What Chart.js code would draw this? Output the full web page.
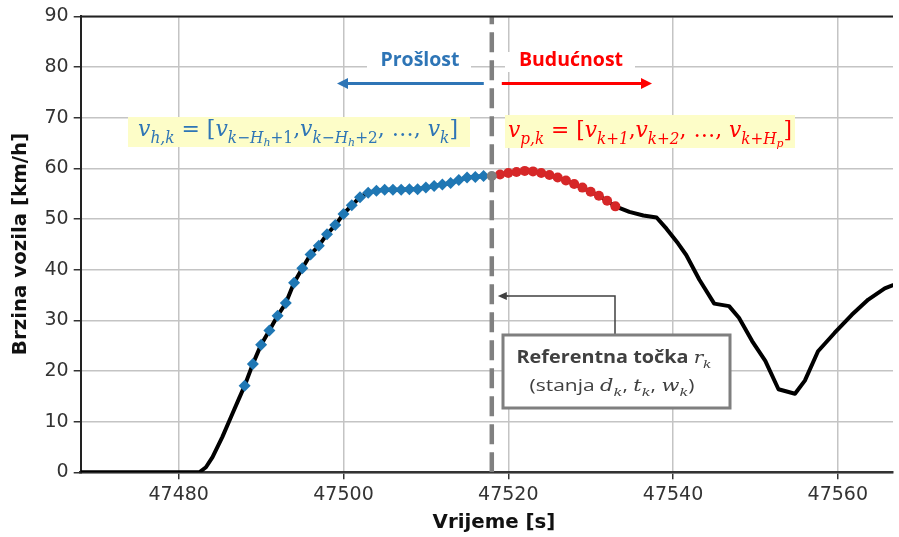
<!DOCTYPE html>
<html><head><meta charset="utf-8">
<script src="https://cdn.jsdelivr.net/npm/chart.js@4/dist/chart.umd.min.js"></script>
<style>html,body{margin:0;padding:0;background:#fff;}#wrap{width:899px;height:537px;position:relative;}</style>
</head><body><div id="wrap"><canvas id="c" width="899" height="537"></canvas></div>
<script>
// ---------- data ----------
const xTickValues = [47480, 47500, 47520, 47540, 47560];
const yTickValues = [0, 10, 20, 30, 40, 50, 60, 70, 80, 90];

// black speed profile before the history window
const leadTimes  = [47466, 47482.5, 47483.3, 47484.1, 47485.3, 47486.5, 47487.3];
const leadSpeeds = [0, 0, 1.0, 3.0, 7.0, 11.5, 14.5];

// history window (blue markers)
const histTimes  = [47488, 47489, 47490, 47491, 47492, 47493, 47494, 47495, 47496, 47497,
                    47498, 47499, 47500, 47501, 47502, 47503, 47504, 47505, 47506, 47507,
                    47508, 47509, 47510, 47511, 47512, 47513, 47514, 47515, 47516, 47517];
const histSpeeds = [17.1, 21.4, 25.2, 28.0, 30.9, 33.4, 37.4, 40.3, 43.0, 44.7,
                    47.0, 48.8, 51.0, 52.7, 54.3, 55.2, 55.6, 55.8, 55.8, 55.8,
                    55.9, 55.9, 56.2, 56.5, 56.8, 57.1, 57.7, 58.2, 58.3, 58.5];

// reference point (grey marker, dashed line)
const refTime  = 47518;
const refSpeed = 58.5;

// prediction window (red markers)
const predTimes  = [47519, 47520, 47521, 47522, 47523, 47524, 47525, 47526,
                    47527, 47528, 47529, 47530, 47531, 47532, 47533];
const predSpeeds = [58.8, 59.1, 59.3, 59.5, 59.4, 59.1, 58.7, 58.2,
                    57.6, 56.9, 56.2, 55.4, 54.6, 53.6, 52.5];

// black speed profile after the prediction window
const tailTimes  = [47534.7, 47536.4, 47538, 47539.2, 47540.6, 47541.6, 47543.2, 47545,
                    47546.8, 47548, 47549.6, 47551.2, 47552.8, 47554.8, 47556, 47557.6,
                    47559.6, 47561.7, 47563.7, 47565.7, 47568];
const tailSpeeds = [51.4, 50.7, 50.3, 48.1, 45.2, 42.9, 38.0, 33.3,
                    32.8, 30.5, 25.9, 22.0, 16.4, 15.5, 18.1, 23.9,
                    27.5, 31.1, 34.1, 36.3, 37.8];

const xMin = 47468.1, xMax = 47566.7, yMin = 0, yMax = 90;

// ---------- build datasets ----------
const toPts = (ts, vs) => ts.map((t, i) => ({x: t, y: vs[i]}));
const linePts = [].concat(
  toPts(leadTimes, leadSpeeds), toPts(histTimes, histSpeeds),
  toPts([refTime], [refSpeed]), toPts(predTimes, predSpeeds), toPts(tailTimes, tailSpeeds));

// ---------- helpers ----------
const STY = {
  i: (s) => `italic ${s}px "DejaVu Serif"`,
  u: (s) => `${s}px "DejaVu Serif"`,
  b: (s) => `bold ${s}px "Open Sans"`,
  n: (s) => `${s}px "Open Sans"`
};
const REL = [1, 0.7, 0.5], DY = [0, 0.3, 0.45];
function mathWidth(ctx, segs, size) {
  let w = 0;
  for (const s of segs) { ctx.font = STY[s[2]](size * REL[s[1]]); w += ctx.measureText(s[0]).width; }
  return w;
}
function drawMath(ctx, segs, cx, base, size, color, targetW) {
  const w = mathWidth(ctx, segs, size);
  const sx = targetW ? targetW / w : 1;
  ctx.save();
  ctx.translate(cx, base); ctx.scale(sx, 1);
  let xx = -w / 2;
  ctx.fillStyle = color; ctx.textAlign = 'left'; ctx.textBaseline = 'alphabetic';
  for (const s of segs) {
    ctx.font = STY[s[2]](size * REL[s[1]]);
    ctx.fillText(s[0], xx, DY[s[1]] * size);
    xx += ctx.measureText(s[0]).width;
  }
  ctx.restore();
}
function arrow(ctx, x1, y1, x2, y2, color, lw, hl, hw) {
  const ang = Math.atan2(y2 - y1, x2 - x1);
  const bx = x2 - Math.cos(ang) * hl, by = y2 - Math.sin(ang) * hl;
  ctx.strokeStyle = color; ctx.fillStyle = color; ctx.lineWidth = lw; ctx.setLineDash([]);
  ctx.beginPath(); ctx.moveTo(x1, y1); ctx.lineTo(bx, by); ctx.stroke();
  ctx.beginPath(); ctx.moveTo(x2, y2);
  ctx.lineTo(bx + Math.sin(ang) * hw, by - Math.cos(ang) * hw);
  ctx.lineTo(bx - Math.sin(ang) * hw, by + Math.cos(ang) * hw);
  ctx.closePath(); ctx.fill();
}

const leftFormula = [
  ['v',0,'i'], ['h,k',1,'i'], [' = [',0,'u'],
  ['v',0,'i'], ['k−H',1,'i'], ['h',2,'i'], ['+1',1,'u'], [',',0,'u'],
  ['v',0,'i'], ['k−H',1,'i'], ['h',2,'i'], ['+2',1,'u'], [', …, ',0,'u'],
  ['v',0,'i'], ['k',1,'i'], [']',0,'u']
];
const rightFormula = [
  ['v',0,'i'], ['p,k',1,'i'], [' = [',0,'u'],
  ['v',0,'i'], ['k+1',1,'i'], [',',0,'u'],
  ['v',0,'i'], ['k+2',1,'i'], [', …, ',0,'u'],
  ['v',0,'i'], ['k+H',1,'i'], ['p',2,'i'], [']',0,'u']
];
const refLine1 = [['Referentna točka ',0,'b'], ['r',0,'i'], ['k',1,'i']];
const refLine2 = [['(stanja ',0,'n'], ['d',0,'i'], ['k',1,'i'], [', ',0,'n'], ['t',0,'i'], ['k',1,'i'],
                  [', ',0,'n'], ['w',0,'i'], ['k',1,'i'], [')',0,'n']];

const BLUE_TXT = '#2e75b6', RED_TXT = '#ff0000';

const overlay = {
  id: 'overlay',
  beforeDatasetsDraw(chart) {
    const {ctx, chartArea: a, scales: {x}} = chart;
    const px = x.getPixelForValue(refTime);
    ctx.save();
    ctx.beginPath(); ctx.rect(a.left, a.top, a.right - a.left, a.bottom - a.top); ctx.clip();
    ctx.strokeStyle = '#808080'; ctx.lineWidth = 4.5; ctx.setLineDash([20, 8]);
    ctx.beginPath(); ctx.moveTo(px, a.bottom); ctx.lineTo(px, a.top); ctx.stroke();
    ctx.restore();
  },
  afterDraw(chart) {
    const {ctx, chartArea: a, scales: {x}} = chart;
    const px = x.getPixelForValue(refTime);
    ctx.save();
    // top spine
    ctx.strokeStyle = '#222'; ctx.lineWidth = 2; ctx.setLineDash([]);
    ctx.beginPath(); ctx.moveTo(a.left, a.top); ctx.lineTo(a.right, a.top); ctx.stroke();

    // Prošlost / Budućnost labels
    ctx.fillStyle = '#fff';
    ctx.fillRect(367, 52, 104, 20);
    ctx.fillRect(505, 52, 130, 20);
    ctx.font = 'bold 19.5px "Open Sans"'; ctx.textAlign = 'center'; ctx.textBaseline = 'middle';
    ctx.fillStyle = BLUE_TXT; ctx.fillText('Prošlost', 420, 60);
    ctx.fillStyle = RED_TXT; ctx.fillText('Budućnost', 571, 60);
    arrow(ctx, px - 8, 83.5, 337, 83.5, BLUE_TXT, 3, 11, 5.5);
    arrow(ctx, px + 10, 83.5, 652, 83.5, RED_TXT, 3, 11, 5.5);

    // formula boxes
    ctx.fillStyle = '#fdfdc8';
    ctx.fillRect(128, 117, 342, 30);
    ctx.fillRect(505, 115, 290, 33);
    drawMath(ctx, leftFormula, 298, 136, 23, BLUE_TXT, 320);
    drawMath(ctx, rightFormula, 650, 137, 23, RED_TXT, 284);

    // reference box with connector
    ctx.strokeStyle = '#404040'; ctx.lineWidth = 1.5; ctx.setLineDash([]);
    ctx.beginPath(); ctx.moveTo(615, 336); ctx.lineTo(615, 296); ctx.lineTo(px + 14, 296); ctx.stroke();
    arrow(ctx, px + 16, 296, px + 6, 296, '#404040', 1.5, 9, 4);
    ctx.fillStyle = '#fff'; ctx.fillRect(503, 335, 227, 73);
    ctx.strokeStyle = '#7f7f7f'; ctx.lineWidth = 3;
    ctx.strokeRect(503, 335, 227, 73);
    drawMath(ctx, refLine1, 614, 363, 17, '#404040', 195);
    drawMath(ctx, refLine2, 612, 391, 17, '#404040', 165);

    // axis titles
    ctx.fillStyle = '#111'; ctx.font = 'bold 19.8px "DejaVu Sans"';
    ctx.textAlign = 'center'; ctx.textBaseline = 'middle';
    ctx.fillText('Vrijeme [s]', 494, 523);
    ctx.translate(21, 244); ctx.rotate(-Math.PI / 2);
    ctx.fillText('Brzina vozila [km/h]', 0, 0);
    ctx.restore();
  }
};

new Chart(document.getElementById('c'), {
  type: 'line',
  data: {
    datasets: [
      { data: toPts(histTimes, histSpeeds), showLine: false, pointStyle: 'rectRot', pointRadius: 6,
        backgroundColor: '#1f77b4', borderColor: '#1f77b4', borderWidth: 0, order: 1 },
      { data: toPts(predTimes, predSpeeds), showLine: false, pointStyle: 'circle', pointRadius: 5,
        backgroundColor: '#d62728', borderColor: '#d62728', borderWidth: 0, order: 1 },
      { data: toPts([refTime], [refSpeed]), showLine: false, pointStyle: 'circle', pointRadius: 5,
        backgroundColor: '#7f7f7f', borderColor: '#7f7f7f', borderWidth: 0, order: 0 },
      { data: linePts, borderColor: '#000', borderWidth: 4, pointRadius: 0, tension: 0,
        borderJoinStyle: 'round', borderCapStyle: 'round', fill: false, order: 3 }
    ]
  },
  options: {
    responsive: false, animation: false, devicePixelRatio: 1,
    layout: { padding: { top: 13, right: 0, bottom: 0, left: 0 } },
    plugins: { legend: { display: false }, tooltip: { enabled: false } },
    scales: {
      x: {
        type: 'linear', min: xMin, max: xMax,
        afterBuildTicks: (s) => { s.ticks = xTickValues.map(v => ({value: v})); },
        afterFit: (s) => { s.height = 64.7; },
        grid: { color: '#c4c4c4', lineWidth: 1.5, tickColor: '#333', tickLength: 7, tickWidth: 1.5 },
        border: { color: '#333', width: 2.5 },
        ticks: { color: '#333', font: { family: 'DejaVu Sans', size: 19 }, padding: 4, maxRotation: 0,
                 callback: (v) => String(v) }
      },
      y: {
        type: 'linear', min: yMin, max: yMax,
        afterBuildTicks: (s) => { s.ticks = yTickValues.map(v => ({value: v})); },
        afterFit: (s) => { s.width = 80.7; },
        grid: { color: '#c4c4c4', lineWidth: 1.5, tickColor: '#333', tickLength: 7, tickWidth: 1.5 },
        border: { color: '#222', width: 2 },
        ticks: { color: '#333', font: { family: 'DejaVu Sans', size: 19 }, padding: 5 }
      }
    }
  },
  plugins: [overlay]
});
</script>
</body></html>
